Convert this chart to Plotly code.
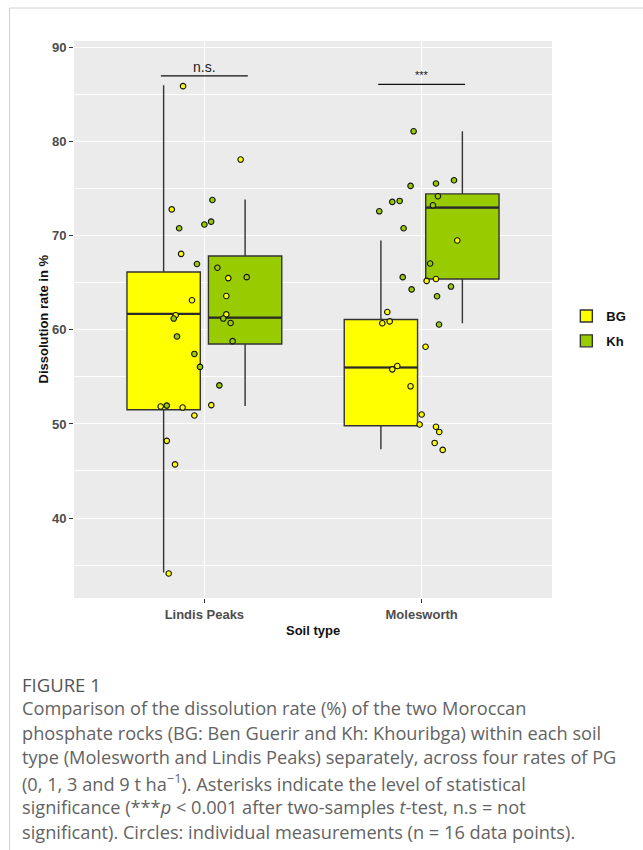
import plotly.graph_objects as go

# ---------------- data ----------------
soils = ["Lindis Peaks", "Molesworth"]
groups = ["BG", "Kh"]

# Box summaries per soil: lower whisker, Q1, median, Q3, upper whisker
bg_lower = [34.2, 47.3]
bg_q1 = [51.5, 49.8]
bg_median = [61.7, 56.0]
bg_q3 = [66.15, 61.1]
bg_upper = [86.0, 69.5]

kh_lower = [51.9, 60.7]
kh_q1 = [58.5, 65.4]
kh_median = [61.3, 73.0]
kh_q3 = [67.85, 74.45]
kh_upper = [73.85, 81.1]

# Individual measurements (dissolution rate, %) and their jitter around the soil centre
lp_bg_values = [85.9, 78.1, 72.8, 68.07, 65.5, 63.6, 63.15, 61.65, 61.55, 52.0,
                51.85, 51.74, 50.9, 48.2, 45.7, 34.1]
lp_bg_jitter = [-0.098, 0.167, -0.150, -0.107, 0.110, 0.101, -0.057, 0.101, -0.132, 0.032,
                -0.201, -0.100, -0.046, -0.173, -0.135, -0.164]

lp_kh_values = [73.8, 71.5, 71.2, 70.8, 67.0, 66.6, 65.6, 61.2, 61.2, 60.73,
                59.3, 58.8, 57.44, 56.06, 54.1, 51.95]
lp_kh_jitter = [0.037, 0.031, 0.0, -0.116, -0.034, 0.060, 0.195, 0.087, -0.141, 0.121,
                -0.126, 0.130, -0.046, -0.020, 0.069, -0.173]

mo_bg_values = [69.5, 65.4, 65.2, 61.9, 60.9, 60.7, 58.2, 56.16, 55.8, 54.0,
                51.0, 49.94, 49.7, 49.15, 47.98, 47.24]
mo_bg_jitter = [0.164, 0.066, 0.023, -0.158, -0.147, -0.181, 0.018, -0.112, -0.135, -0.051,
                0.0, -0.009, 0.066, 0.081, 0.060, 0.097]

mo_kh_values = [81.1, 75.9, 75.55, 75.3, 74.2, 73.7, 73.6, 73.24, 72.6, 70.8,
                67.05, 65.6, 64.6, 64.3, 63.57, 60.57]
mo_kh_jitter = [-0.037, 0.149, 0.066, -0.051, 0.075, -0.101, -0.135, 0.052, -0.195, -0.083,
                0.039, -0.087, 0.135, -0.046, 0.071, 0.080]

# Significance labels and bracket heights per soil
sig_labels = ["n.s.", "***"]
sig_heights = [87.0, 86.1]

y_ticks = [40, 50, 60, 70, 80, 90]
y_minor = [35, 45, 55, 65, 75, 85]

# ---------------- styling ----------------
fills = {"BG": "#FFFF00", "Kh": "#99CC00"}
edge = "#333333"
positions = list(range(len(soils)))

# plot area in page pixels (used to place page-level text)
PL, PR, PT, PB = 74, 552, 41, 598


def fx(px):
    return (px - PL) / (PR - PL)


def fy(py):
    return (PB - py) / (PB - PT)


fig = go.Figure()

box_stats = {
    "BG": (bg_lower, bg_q1, bg_median, bg_q3, bg_upper),
    "Kh": (kh_lower, kh_q1, kh_median, kh_q3, kh_upper),
}
for g in groups:
    lo, q1, med, q3, hi = box_stats[g]
    fig.add_trace(go.Box(
        name=g, x=positions, lowerfence=lo, q1=q1, median=med, q3=q3, upperfence=hi,
        fillcolor=fills[g], line=dict(color=edge, width=1.4), whiskerwidth=0,
        boxpoints=False, offsetgroup=g, legendgroup=g, hoverinfo="skip",
    ))
# heavier median bar drawn on top of each box (collapsed box at the median)
for g in groups:
    med = box_stats[g][2]
    fig.add_trace(go.Box(
        name=g, x=positions, lowerfence=med, q1=med, median=med, q3=med, upperfence=med,
        fillcolor="rgba(0,0,0,0)", line=dict(color="#2A2A2A", width=2.2), whiskerwidth=0,
        boxpoints=False, offsetgroup=g, legendgroup=g, showlegend=False, hoverinfo="skip",
    ))

point_sets = [
    (0, lp_bg_values, lp_bg_jitter, "BG"),
    (0, lp_kh_values, lp_kh_jitter, "Kh"),
    (1, mo_bg_values, mo_bg_jitter, "BG"),
    (1, mo_kh_values, mo_kh_jitter, "Kh"),
]
for pos, vals, jit, g in point_sets:
    fig.add_trace(go.Scatter(
        x=[pos + j for j in jit], y=vals, mode="markers", showlegend=False,
        marker=dict(size=5.5, color=fills[g], line=dict(color="#111111", width=1.1)),
        hoverinfo="skip",
    ))

shapes = []
annotations = []
for pos, lab, h in zip(positions, sig_labels, sig_heights):
    shapes.append(dict(type="line", xref="x", yref="y", x0=pos - 0.2, x1=pos + 0.2,
                       y0=h, y1=h, line=dict(color="#111111", width=1.3)))
    annotations.append(dict(x=pos, y=h, xref="x", yref="y", text=lab, showarrow=False,
                            yanchor="bottom", yshift=-1 if lab == "n.s." else 1,
                            font=dict(family="Liberation Sans", size=14 if lab == "n.s." else 11,
                                      color="#222222")))

# page frame lines
shapes.append(dict(type="line", xref="paper", yref="paper", x0=fx(9.5), x1=fx(9.5),
                   y0=fy(8), y1=fy(850), line=dict(color="#D0D0D0", width=1)))
shapes.append(dict(type="line", xref="paper", yref="paper", x0=fx(9.5), x1=fx(643),
                   y0=fy(8), y1=fy(8), line=dict(color="#D0D0D0", width=1)))

# axis titles
annotations.append(dict(x=0.5, y=fy(630), xref="paper", yref="paper", text="Soil type",
                        showarrow=False, yanchor="middle",
                        font=dict(family="Liberation Sans", size=13, color="#111111", weight="bold")))
annotations.append(dict(x=fx(43), y=0.5, xref="paper", yref="paper", text="Dissolution rate in %",
                        showarrow=False, textangle=-90, xanchor="center", yanchor="middle",
                        font=dict(family="Liberation Sans", size=13, color="#111111", weight="bold")))

# figure caption
caption_lines = [
    "Comparison of the dissolution rate (%) of the two Moroccan",
    "phosphate rocks (BG: Ben Guerir and Kh: Khouribga) within each soil",
    "type (Molesworth and Lindis Peaks) separately, across four rates of PG",
    "(0, 1, 3 and 9 t ha<sup>\u22121</sup>). Asterisks indicate the level of statistical",
    "significance (***<i>p</i> &lt; 0.001 after two-samples <i>t</i>-test, n.s = not",
    "significant). Circles: individual measurements (n = 16 data points).",
]
annotations.append(dict(x=fx(20), y=fy(684), xref="paper", yref="paper", text="FIGURE 1",
                        showarrow=False, xanchor="left", yanchor="middle",
                        font=dict(family="Open Sans", size=18.5, color="#555555")))
for i, line in enumerate(caption_lines):
    annotations.append(dict(x=fx(20), y=fy(708 + i * 24.7), xref="paper", yref="paper",
                            text=line, showarrow=False, xanchor="left", yanchor="middle",
                            font=dict(family="Open Sans", size=18.2, color="#636363")))

fig.update_layout(
    width=643, height=850,
    margin=dict(l=PL, r=643 - PR, t=PT, b=850 - PB),
    paper_bgcolor="white", plot_bgcolor="#EBEBEB",
    boxmode="group", boxgap=0.25, boxgroupgap=0.1,
    shapes=shapes, annotations=annotations,
    legend=dict(x=1.03, y=fy(301), xanchor="left", yanchor="top",
                font=dict(family="Liberation Sans", size=13, color="#111111", weight="bold"),
                bgcolor="rgba(0,0,0,0)", tracegroupgap=5),
    xaxis=dict(range=[-0.6, 1.6], tickvals=positions, ticktext=soils,
               showgrid=True, gridcolor="white", gridwidth=1.3, zeroline=False,
               ticks="outside", ticklen=4, tickcolor="#333333",
               tickfont=dict(family="Liberation Sans", size=13, color="#4D4D4D", weight="bold")),
    yaxis=dict(range=[31.5, 90.7], tickvals=y_ticks,
               showgrid=True, gridcolor="white", gridwidth=1.3, zeroline=False,
               ticks="outside", ticklen=4, tickcolor="#333333",
               tickfont=dict(family="Liberation Sans", size=13, color="#4D4D4D", weight="bold"),
               minor=dict(tickvals=y_minor, showgrid=True, gridcolor="white", gridwidth=0.7)),
)

fig.write_html("out.html")
